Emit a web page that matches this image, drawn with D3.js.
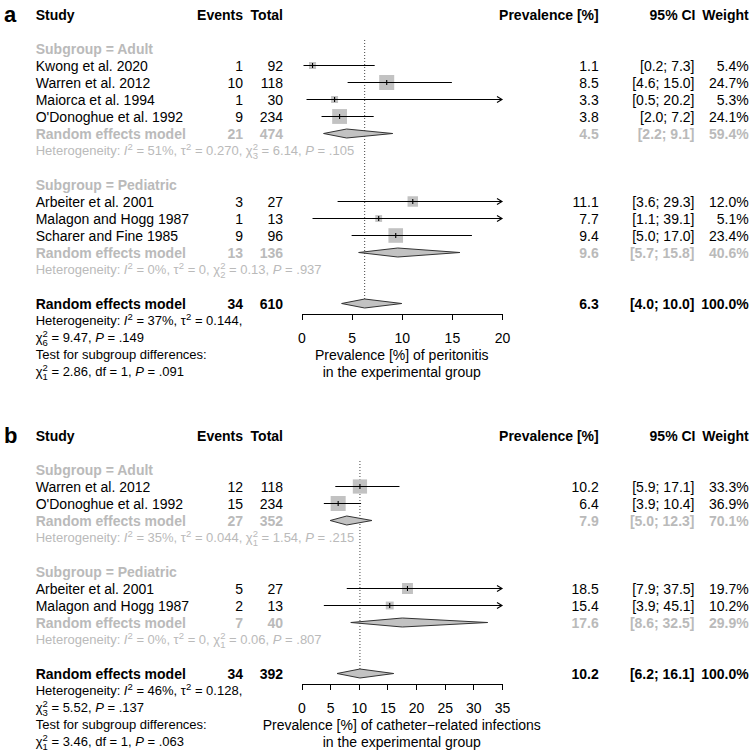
<!DOCTYPE html>
<meta charset="utf-8">
<head>
  <style>
  body { margin: 0; background: #fff; }
  svg { font-family: "Liberation Sans", Arial, sans-serif; }
  .axis path, .axis line { stroke: #000; shape-rendering: crispEdges; }
  .axis text { font-size: 14px; fill: #000; }
  </style>
</head>
<body>
<div id="graph"></div>
<script src="https://d3js.org/d3.v7.min.js"></script>
<script>

// ---- panel a: peritonitis ----
var studyA  = ["Kwong et al. 2020", "Warren et al. 2012", "Maiorca et al. 1994", "O'Donoghue et al. 1992",
               "Arbeiter et al. 2001", "Malagon and Hogg 1987", "Scharer and Fine 1985"];
var groupA  = ["Adult", "Adult", "Adult", "Adult", "Pediatric", "Pediatric", "Pediatric"];
var eventsA = [1, 10, 1, 9, 3, 1, 9];
var totalA  = [92, 118, 30, 234, 27, 13, 96];
var prevA   = [1.1, 8.5, 3.3, 3.8, 11.1, 7.7, 9.4];
var lowerA  = [0.2, 4.6, 0.5, 2.0, 3.6, 1.1, 5.0];
var upperA  = [7.3, 15.0, 20.2, 7.2, 29.3, 39.1, 17.0];
var weightA = [5.4, 24.7, 5.3, 24.1, 12.0, 5.1, 23.4];

var subNameA   = ["Adult", "Pediatric"];
var subEventsA = [21, 13];
var subTotalA  = [474, 136];
var subPrevA   = [4.5, 9.6];
var subLowerA  = [2.2, 5.7];
var subUpperA  = [9.1, 15.8];
var subWeightA = [59.4, 40.6];
var subI2A     = ["51%", "0%"];
var subTau2A   = ["0.270", "0"];
var subDfA     = ["3", "2"];
var subQA      = ["6.14", "0.13"];
var subPA      = [".105", ".937"];

var allA  = [34, 610, 6.3, 4.0, 10.0];       // events, total, prev, lower, upper
var hetA  = ["37%", "0.144", "6", "9.47", ".149"];
var testA = ["1", "2.86", "1", ".091"];
var ticksA = [0, 5, 10, 15, 20];
var xlabA  = ["Prevalence [%] of peritonitis", "in the experimental group"];

// ---- panel b: catheter-related infections ----
var studyB  = ["Warren et al. 2012", "O'Donoghue et al. 1992", "Arbeiter et al. 2001", "Malagon and Hogg 1987"];
var groupB  = ["Adult", "Adult", "Pediatric", "Pediatric"];
var eventsB = [12, 15, 5, 2];
var totalB  = [118, 234, 27, 13];
var prevB   = [10.2, 6.4, 18.5, 15.4];
var lowerB  = [5.9, 3.9, 7.9, 3.9];
var upperB  = [17.1, 10.4, 37.5, 45.1];
var weightB = [33.3, 36.9, 19.7, 10.2];

var subNameB   = ["Adult", "Pediatric"];
var subEventsB = [27, 7];
var subTotalB  = [352, 40];
var subPrevB   = [7.9, 17.6];
var subLowerB  = [5.0, 8.6];
var subUpperB  = [12.3, 32.5];
var subWeightB = [70.1, 29.9];
var subI2B     = ["35%", "0%"];
var subTau2B   = ["0.044", "0"];
var subDfB     = ["1", "1"];
var subQB      = ["1.54", "0.06"];
var subPB      = [".215", ".807"];

var allB  = [34, 392, 10.2, 6.2, 16.1];
var hetB  = ["46%", "0.128", "3", "5.52", ".137"];
var testB = ["1", "3.46", "1", ".063"];
var ticksB = [0, 5, 10, 15, 20, 25, 30, 35];
var xlabB  = ["Prevalence [%] of catheter\u2212related infections", "in the experimental group"];

var grey = "#bababa", boxFill = "#c2c2c2";
var rowH = 17;
var hetSize = 13;
var colStudy = 35.7, colEvents = 243, colTotal = 283, colPrev = 598.7, colCI = 694.5, colW = 748.7;

var svg = d3.select("#graph").append("svg")
  .attr("width", 752)
  .attr("height", 752);

function f1(v){ return v.toFixed(1); }

// text with italic / super / stacked sup+sub pieces
function rich(g, x, y, segs, fill, size){
  var t = g.append("text").attr("x", x).attr("y", y).attr("fill", fill).style("font-size", size + "px");
  var shift = 0;
  function piece(str, target, opts){
    var s = t.append("tspan").text(str).attr("dy", target - shift);
    shift = target;
    if(opts && opts.italic) s.style("font-style", "italic");
    if(opts && opts.small) s.style("font-size", "9.5px");
    if(opts && opts.dx) s.attr("dx", opts.dx);
    return s;
  }
  segs.forEach(function(s){
    if(typeof s === "string") piece(s, 0);
    else if(s.it) piece(s.it, 0, {italic: true});
    else if(s.sup) piece(s.sup, -5, {small: true});
    else if(s.ss){ piece(s.ss[0], -5, {small: true}); piece(s.ss[1], 4, {small: true, dx: -5.3}); }
  });
  return t;
}

function txt(g, x, y, s, opt){
  opt = opt || {};
  return g.append("text").attr("x", x).attr("y", y).text(s)
    .attr("text-anchor", opt.anchor || "start")
    .attr("fill", opt.fill || "#000")
    .style("font-size", (opt.size || 14) + "px")
    .style("font-weight", opt.bold ? "bold" : "normal");
}

function drawPanel(label, top, d){
  var g = svg.append("g");
  var Y = function(i){ return top + i * rowH; };
  var x = d3.scaleLinear().domain([0, d.ticks[d.ticks.length - 1]]).range([301.5, 502]);
  var xmax = x.domain()[1];
  var wmax = d3.max(d.weight);
  var side = function(w){ return 15 * Math.sqrt(w / wmax); };

  // header
  txt(g, 4, Y(0) + 7, label, {bold: true, size: 22});
  txt(g, colStudy, Y(0) + 5, "Study", {bold: true});
  txt(g, colEvents, Y(0) + 5, "Events", {bold: true, anchor: "end"});
  txt(g, colTotal, Y(0) + 5, "Total", {bold: true, anchor: "end"});
  txt(g, colPrev, Y(0) + 5, "Prevalence [%]", {bold: true, anchor: "end"});
  txt(g, colCI + 1, Y(0) + 5, "95% CI", {bold: true, anchor: "end"});
  txt(g, colW, Y(0) + 5, "Weight", {bold: true, anchor: "end"});

  // layout rows
  var row = 2, studyRows = [], subRows = [];
  d.subName.forEach(function(sg, k){
    subRows.push({label: row});
    row++;
    d.group.forEach(function(gr, i){ if(gr === sg){ studyRows[i] = row; row++; } });
    subRows[k].re = row; row++;
    subRows[k].het = row; row += 2;
  });
  var allRow = row;

  // reference line
  g.append("line")
    .attr("x1", x(d.all[2])).attr("x2", x(d.all[2]))
    .attr("y1", Y(2) - 8.5).attr("y2", Y(allRow) - 4)
    .attr("stroke", "#444").attr("stroke-dasharray", "1,2");

  function diamond(yc, p, lo, hi){
    g.append("polygon")
      .attr("points", [[x(lo), yc], [x(p), yc - 4.5], [x(Math.min(hi, xmax)), yc], [x(p), yc + 4.5]].join(" "))
      .attr("fill", boxFill).attr("stroke", "#333").attr("stroke-width", 1);
  }

  // subgroups
  d.subName.forEach(function(sg, k){
    var r = subRows[k];
    txt(g, colStudy, Y(r.label) + 5, "Subgroup = " + sg, {bold: true, fill: grey});
    txt(g, colStudy, Y(r.re) + 5, "Random effects model", {bold: true, fill: grey});
    txt(g, colEvents, Y(r.re) + 5, d.subEvents[k], {bold: true, fill: grey, anchor: "end"});
    txt(g, colTotal, Y(r.re) + 5, d.subTotal[k], {bold: true, fill: grey, anchor: "end"});
    txt(g, colPrev, Y(r.re) + 5, f1(d.subPrev[k]), {bold: true, fill: grey, anchor: "end"});
    txt(g, colCI, Y(r.re) + 5, "[" + f1(d.subLower[k]) + "; " + f1(d.subUpper[k]) + "]", {bold: true, fill: grey, anchor: "end"});
    txt(g, colW, Y(r.re) + 5, f1(d.subWeight[k]) + "%", {bold: true, fill: grey, anchor: "end"});
    diamond(Y(r.re), d.subPrev[k], d.subLower[k], d.subUpper[k]);
    rich(g, colStudy, Y(r.het) + 4.5, ["Heterogeneity: ", {it: "I"}, {sup: "2"}, " = " + d.subI2[k] + ", \u03c4", {sup: "2"},
      " = " + d.subTau2[k] + ", \u03c7", {ss: ["2", d.subDf[k]]}, " = " + d.subQ[k] + ", ", {it: "P"}, " = " + d.subP[k]], grey, hetSize);
  });

  // studies
  d.study.forEach(function(s, i){
    var yc = Y(studyRows[i]);
    txt(g, colStudy, yc + 5, s);
    txt(g, colEvents, yc + 5, d.events[i], {anchor: "end"});
    txt(g, colTotal, yc + 5, d.total[i], {anchor: "end"});
    txt(g, colPrev, yc + 5, f1(d.prev[i]), {anchor: "end"});
    txt(g, colCI, yc + 5, "[" + f1(d.lower[i]) + "; " + f1(d.upper[i]) + "]", {anchor: "end"});
    txt(g, colW, yc + 5, f1(d.weight[i]) + "%", {anchor: "end"});

    var sd = side(d.weight[i]);
    g.append("rect")
      .attr("x", x(d.prev[i]) - sd / 2).attr("y", yc - sd / 2)
      .attr("width", sd).attr("height", sd)
      .attr("fill", boxFill);
    var hi = Math.min(d.upper[i], xmax);
    g.append("line")
      .attr("x1", x(d.lower[i])).attr("x2", x(hi))
      .attr("y1", yc).attr("y2", yc)
      .attr("stroke", "#000").attr("stroke-width", 1.1);
    g.append("line")
      .attr("x1", x(d.prev[i])).attr("x2", x(d.prev[i]))
      .attr("y1", yc - 2.5).attr("y2", yc + 2.5)
      .attr("stroke", "#000").attr("stroke-width", 1.1);
    if(d.upper[i] > xmax){
      g.append("path")
        .attr("d", "M" + (x(xmax) - 5) + "," + (yc - 3) + "L" + x(xmax) + "," + yc + "L" + (x(xmax) - 5) + "," + (yc + 3))
        .attr("fill", "none").attr("stroke", "#000").attr("stroke-width", 1.1);
    }
  });

  // overall
  var ya = Y(allRow);
  txt(g, colStudy, ya + 5, "Random effects model", {bold: true});
  txt(g, colEvents, ya + 5, d.all[0], {bold: true, anchor: "end"});
  txt(g, colTotal, ya + 5, d.all[1], {bold: true, anchor: "end"});
  txt(g, colPrev, ya + 5, f1(d.all[2]), {bold: true, anchor: "end"});
  txt(g, colCI, ya + 5, "[" + f1(d.all[3]) + "; " + f1(d.all[4]) + "]", {bold: true, anchor: "end"});
  txt(g, colW, ya + 5, "100.0%", {bold: true, anchor: "end"});
  diamond(ya, d.all[2], d.all[3], d.all[4]);

  rich(g, colStudy, Y(allRow + 1) + 4.5, ["Heterogeneity: ", {it: "I"}, {sup: "2"}, " = " + d.het[0] + ", \u03c4", {sup: "2"}, " = " + d.het[1] + ","], "#000", hetSize);
  rich(g, colStudy, Y(allRow + 2) + 4.5, ["\u03c7", {ss: ["2", d.het[2]]}, " = " + d.het[3] + ", ", {it: "P"}, " = " + d.het[4]], "#000", hetSize);
  rich(g, colStudy, Y(allRow + 3) + 4.5, ["Test for subgroup differences:"], "#000", hetSize);
  rich(g, colStudy, Y(allRow + 4) + 4.5, ["\u03c7", {ss: ["2", d.test[0]]}, " = " + d.test[1] + ", df = " + d.test[2] + ", ", {it: "P"}, " = " + d.test[3]], "#000", hetSize);

  // axis
  var axis = d3.axisBottom(x).tickValues(d.ticks).tickSize(6).tickSizeOuter(6).tickPadding(13.5);
  g.append("g").attr("class", "axis")
    .attr("transform", "translate(0," + (ya + 10) + ")")
    .call(axis);
  txt(g, (x.range()[0] + x.range()[1]) / 2, Y(allRow + 3) + 5, d.xlab[0], {anchor: "middle"});
  txt(g, (x.range()[0] + x.range()[1]) / 2, Y(allRow + 4) + 5, d.xlab[1], {anchor: "middle"});
}

drawPanel("a", 14.5, {
  study: studyA, group: groupA, events: eventsA, total: totalA, prev: prevA, lower: lowerA, upper: upperA, weight: weightA,
  subName: subNameA, subEvents: subEventsA, subTotal: subTotalA, subPrev: subPrevA, subLower: subLowerA, subUpper: subUpperA,
  subWeight: subWeightA, subI2: subI2A, subTau2: subTau2A, subDf: subDfA, subQ: subQA, subP: subPA,
  all: allA, het: hetA, test: testA, ticks: ticksA, xlab: xlabA
});

drawPanel("b", 435.5, {
  study: studyB, group: groupB, events: eventsB, total: totalB, prev: prevB, lower: lowerB, upper: upperB, weight: weightB,
  subName: subNameB, subEvents: subEventsB, subTotal: subTotalB, subPrev: subPrevB, subLower: subLowerB, subUpper: subUpperB,
  subWeight: subWeightB, subI2: subI2B, subTau2: subTau2B, subDf: subDfB, subQ: subQB, subP: subPB,
  all: allB, het: hetB, test: testB, ticks: ticksB, xlab: xlabB
});

</script>
</body>
</html>
